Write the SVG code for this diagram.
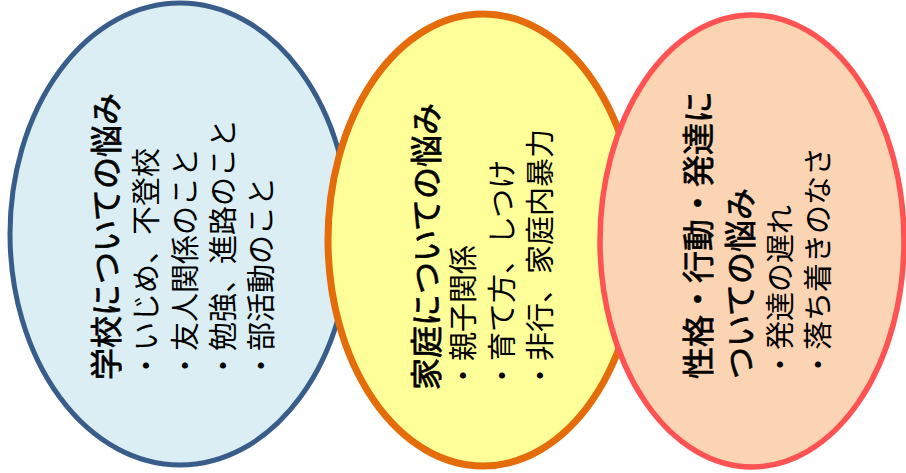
<svg xmlns="http://www.w3.org/2000/svg" width="906" height="473" viewBox="0 0 906 473">
<style>
text{font-family:"Noto Sans CJK JP","Noto Sans CJK SC",sans-serif;fill:#000;dominant-baseline:central}
.t{font-size:32px;font-weight:normal;stroke:#000;stroke-width:0.7}
.b{font-size:29px}
</style>
<rect width="906" height="473" fill="#ffffff"/>
<g id="school">
<ellipse cx="180" cy="234" rx="170" ry="231" fill="#DAEEF3" stroke="#385D8A" stroke-width="5"/>
<text class="t" x="104" y="380" transform="rotate(-90 104 380)">学校についての悩み</text>
<text class="b" x="144" y="380" transform="rotate(-90 144 380)">・いじめ、不登校</text>
<text class="b" x="183" y="380" transform="rotate(-90 183 380)">・友人関係のこと</text>
<text class="b" x="221" y="380" transform="rotate(-90 221 380)">・勉強、進路のこと</text>
<text class="b" x="259" y="380" transform="rotate(-90 259 380)">・部活動のこと</text>
</g>
<g id="family">
<ellipse cx="483" cy="240" rx="155" ry="226" fill="#FFFF99" stroke="#E46C0A" stroke-width="7"/>
<text class="t" x="424" y="390" transform="rotate(-90 424 390)">家庭についての悩み</text>
<text class="b" x="461" y="390" transform="rotate(-90 461 390)">・親子関係</text>
<text class="b" x="500" y="390" transform="rotate(-90 500 390)">・育て方、しつけ</text>
<text class="b" x="538" y="390" transform="rotate(-90 538 390)">・非行、家庭内暴力</text>
</g>
<g id="personality">
<ellipse cx="752" cy="241" rx="152" ry="226" fill="#FBD4B4" stroke="#FF5353" stroke-width="5.5"/>
<text class="t" x="696" y="379" transform="rotate(-90 696 379)">性格・行動・発達に</text>
<text class="t" x="738" y="379" transform="rotate(-90 738 379)">ついての悩み</text>
<text class="b" x="778" y="379" transform="rotate(-90 778 379)">・発達の遅れ</text>
<text class="b" x="816" y="379" transform="rotate(-90 816 379)">・落ち着きのなさ</text>
</g>
<g id="connectors"/>
</svg>
